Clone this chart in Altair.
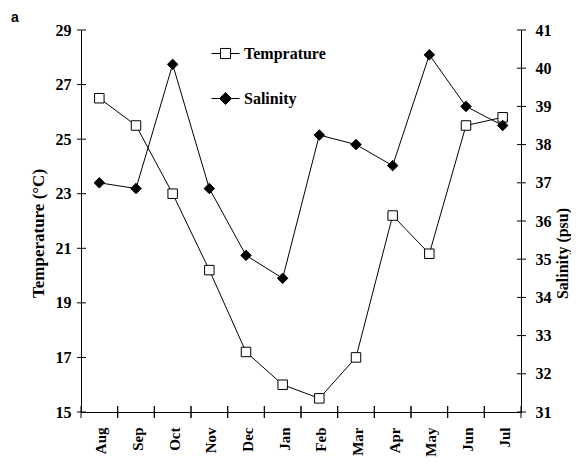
import altair as alt
import pandas as pd

months = ["Aug", "Sep", "Oct", "Nov", "Dec", "Jan", "Feb", "Mar", "Apr", "May", "Jun", "Jul"]
temperature = [26.5, 25.5, 23.0, 20.2, 17.2, 16.0, 15.5, 17.0, 22.2, 20.8, 25.5, 25.8]
salinity = [37.0, 36.85, 40.1, 36.85, 35.1, 34.5, 38.25, 38.0, 37.45, 40.35, 39.0, 38.5]
temp_ticks = [15, 17, 19, 21, 23, 25, 27, 29]
sal_ticks = [31, 32, 33, 34, 35, 36, 37, 38, 39, 40, 41]
series_names = ["Temprature", "Salinity"]
panel_label = ["a"]

W, H = 440, 382
SERIF = "Liberation Serif"

df = pd.DataFrame({"Month": months, "Temperature": temperature, "Salinity": salinity})
df_tt = pd.DataFrame({"Temperature": temp_ticks})
df_st = pd.DataFrame({"Salinity": sal_ticks})
df_m = pd.DataFrame({"Month": months})
df_leg = pd.DataFrame({"Series": series_names})
df_lab = pd.DataFrame({"label": panel_label})

x_scale = alt.Scale(type="band", domain=months, paddingInner=0, paddingOuter=0)
x_axis = alt.Axis(title=None, labelAngle=270, labelAlign="right", labelBaseline="middle",
                  ticks=False, labelPadding=15, labelOffset=2,
                  labelFont=SERIF, labelFontWeight="bold", labelFontSize=15, labelColor="black",
                  domainColor="black", domainWidth=1)

def xenc(bp=0.5):
    return alt.X("Month:N", scale=x_scale, axis=x_axis, sort=months, bandPosition=bp)

t_scale = alt.Scale(domain=[15, 29], nice=False, zero=False)
t_axis = alt.Axis(title="Temperature (°C)", values=temp_ticks, ticks=False, grid=False,
                  labelPadding=10, labelFont=SERIF, labelFontWeight="bold", labelFontSize=16,
                  labelColor="black", domainColor="black", domainWidth=1,
                  titleFont=SERIF, titleFontWeight="bold", titleFontSize=17, titleColor="black",
                  titleAngle=270, titleBaseline="middle", titleX=-43, titleY=203)
s_scale = alt.Scale(domain=[31, 41], nice=False, zero=False)
s_axis = alt.Axis(title="Salinity  (psu)", orient="right", values=sal_ticks, ticks=False, grid=False,
                  labelPadding=14, labelFont=SERIF, labelFontWeight="bold", labelFontSize=16,
                  labelColor="black", domainColor="black", domainWidth=1,
                  titleFont=SERIF, titleFontWeight="bold", titleFontSize=16, titleColor="black",
                  titleAngle=270, titleBaseline="middle", titleX=41, titleY=223)

def tenc(field="Temperature"):
    return alt.Y(f"{field}:Q", scale=t_scale, axis=t_axis)

def senc(field="Salinity"):
    return alt.Y(f"{field}:Q", scale=s_scale, axis=s_axis)

base = alt.Chart(df)

temp_line = base.mark_line(color="black", strokeWidth=1).encode(x=xenc(), y=tenc())
temp_pts = base.mark_point(shape="square", size=90, filled=True, fill="white",
                           stroke="black", strokeWidth=1, opacity=1).encode(x=xenc(), y=tenc())
left_ticks = alt.Chart(df_tt).mark_rule(color="black", strokeWidth=1).encode(
    y=tenc(), x=alt.value(-4), x2=alt.value(5))
bottom_ticks0 = alt.Chart(df_m).mark_rule(color="black", strokeWidth=1).encode(
    x=xenc(0), y=alt.value(H - 6), y2=alt.value(H + 6))
bottom_ticks1 = alt.Chart(df_m).mark_rule(color="black", strokeWidth=1).encode(
    x=xenc(1), y=alt.value(H - 6), y2=alt.value(H + 6))

sq_path = "M-1,0H-0.36M0.36,0H1M-0.36,-0.36H0.36V0.36H-0.36Z"
dm_path = "M-1,0H-0.43M0.43,0H1M0,-0.43L0.43,0L0,0.43L-0.43,0Z"
leg = alt.Legend(orient="none", legendX=130, legendY=9, title=None, padding=0,
                 labelFont=SERIF, labelFontWeight="bold", labelFontSize=16, labelColor="black",
                 labelOffset=4, symbolSize=784, symbolStrokeWidth=1, symbolStrokeColor="black",
                 symbolOpacity=1, rowPadding=22, labelBaseline="middle")
legend_layer = alt.Chart(df_leg).mark_point(filled=True, opacity=0, strokeWidth=1).encode(
    shape=alt.Shape("Series:N", scale=alt.Scale(domain=series_names, range=[sq_path, dm_path]), legend=leg),
    fill=alt.Fill("Series:N", scale=alt.Scale(domain=series_names, range=["white", "black"]), legend=leg),
    stroke=alt.Stroke("Series:N", scale=alt.Scale(domain=series_names, range=["black", "black"]), legend=leg),
)

label_layer = alt.Chart(df_lab).mark_text(font="Liberation Sans", fontWeight="bold", fontSize=14,
                                          align="left", baseline="alphabetic", color="black").encode(
    text="label:N", x=alt.value(-70), y=alt.value(-8))

sal_line = base.mark_line(color="black", strokeWidth=1).encode(x=xenc(), y=senc())
sal_pts = base.mark_point(shape="diamond", size=110, filled=True, fill="black",
                          stroke="black", strokeWidth=1, opacity=1).encode(x=xenc(), y=senc())
right_ticks = alt.Chart(df_st).mark_rule(color="black", strokeWidth=1).encode(
    y=senc(), x=alt.value(W - 4), x2=alt.value(W + 5))

left = alt.layer(temp_line, temp_pts, left_ticks, bottom_ticks0, bottom_ticks1, legend_layer, label_layer)
right = alt.layer(sal_line, sal_pts, right_ticks)

chart = alt.layer(left, right).resolve_scale(y="independent").properties(
    width=W, height=H,
    autosize=alt.AutoSizeParams(type="none"),
    padding={"left": 73, "top": 22, "right": 50, "bottom": 46},
    background="white",
).configure_view(stroke=None)

chart.save("out.html", embed_options={"renderer": "svg", "actions": False})
